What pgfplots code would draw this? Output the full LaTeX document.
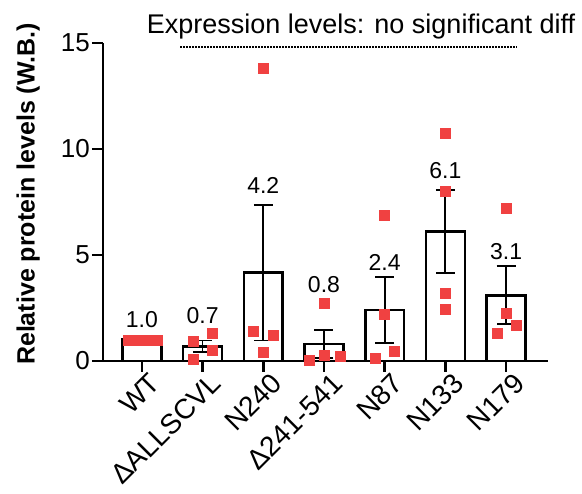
\documentclass[border=0pt]{standalone}
\usepackage{fontspec}
\setmainfont{Liberation Sans}
\usepackage{pgfplots}
\pgfplotsset{compat=1.18}
\usetikzlibrary{calc}
\definecolor{ptred}{RGB}{240,65,65}

\begin{document}
\begin{tikzpicture}
\begin{axis}[
  scale only axis, width=445pt, height=318pt,
  xmin=-0.64, xmax=6.69, ymin=0, ymax=15,
  axis x line=bottom, axis y line=left,
  axis line style={-, line width=2.6pt},
  xtick={0,1,2,3,4,5,6},
  xticklabels={WT,ΔALLSCVL,N240,Δ241-541,N87,N133,N179},
  ytick={0,5,10,15},
  x tick label style={rotate=45, anchor=north east, inner sep=1pt, xshift=6pt, yshift=-3pt, font=\fontsize{28}{32}\selectfont},
  y tick label style={font=\fontsize{26}{31}\selectfont, inner sep=2pt},
  /pgf/number format/assume math mode=true,
  tick align=outside, major tick length=11pt,
  tick style={line width=2.6pt, black},
  ylabel={\textbf{Relative protein levels (W.B.)}},
  every axis y label/.style={at={(axis description cs:-0.168,0.525)}, rotate=90, anchor=center, inner sep=0pt, font=\fontsize{25}{30}\selectfont},
  clip=false,
]
\coordinate (O) at (rel axis cs:0,0);
% bars with SEM
\addplot[ybar, bar width=0.64, fill=white, draw=black, line width=2.6pt,
  error bars/.cd, y dir=both, y explicit,
  error bar style={line width=1.8pt, black},
  error mark options={rotate=90, mark size=9.5pt, line width=1.8pt, black}]
coordinates {
  (0,1.0) +- (0,0)
  (1,0.69) +- (0,0.28)
  (2,4.17) +- (0,3.2)
  (3,0.8) +- (0,0.66)
  (4,2.4) +- (0,1.56)
  (5,6.1) +- (0,1.96)
  (6,3.1) +- (0,1.37)
};
% individual points
\addplot[only marks, mark=square*, mark size=5pt, color=ptred] coordinates {
  (-0.23,1) (-0.08,1) (0.1,1) (0.26,1)
  (0.85,0.94) (1.16,1.32) (1.16,0.52) (0.85,0.09)
  (2,13.8) (1.84,1.42) (2.16,1.23) (2,0.42)
  (3,2.74) (2.75,0.05) (3,0.28) (3.26,0.24)
  (4,6.88) (4,2.22) (3.85,0.14) (4.15,0.47)
  (5,10.75) (5,8.02) (5,3.2) (5,2.45)
  (6,7.22) (6,2.26) (5.85,1.32) (6.16,1.7)
};
% mean labels
\begin{scope}[every node/.style={anchor=base, inner sep=0pt, font=\fontsize{23}{27}\selectfont}]
\node at (axis cs:0,1.56) {1.0};
\node at (axis cs:1,1.79) {0.7};
\node at (axis cs:2,7.88) {4.2};
\node at (axis cs:3,3.25) {0.8};
\node at (axis cs:4,4.29) {2.4};
\node at (axis cs:5,8.63) {6.1};
\node at (axis cs:6,4.81) {3.1};
\end{scope}
\node[anchor=base west, inner sep=0pt, font=\fontsize{27}{32}\selectfont] at (axis cs:0.08,15.47) {Expression levels: no significant diff};
\draw[line width=1.5pt, dash pattern=on 1.5pt off 1.5pt] (axis cs:0.63,14.81) -- (axis cs:6.18,14.81);
\end{axis}
\pgfresetboundingbox
\path ($(O)+(-103pt,-133pt)$) rectangle ($(O)+(479pt,361pt)$);
\end{tikzpicture}
\end{document}
